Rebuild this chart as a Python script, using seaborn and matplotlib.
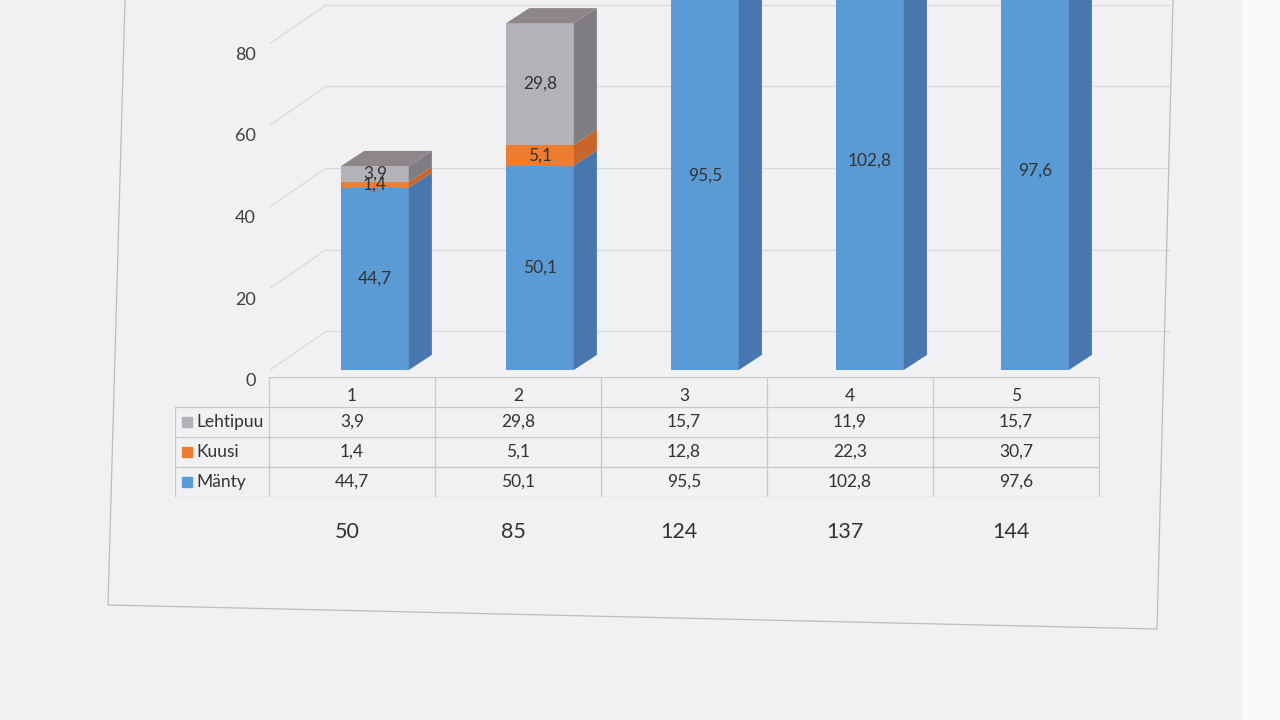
import numpy as np
import pandas as pd
import seaborn as sns
import matplotlib.pyplot as plt
from matplotlib.patches import Polygon, Rectangle
from matplotlib.lines import Line2D
from matplotlib.transforms import ScaledTranslation

# Data
kategoriat = ["1", "2", "3", "4", "5"]
lehtipuu = [3.9, 29.8, 15.7, 11.9, 15.7]
kuusi = [1.4, 5.1, 12.8, 22.3, 30.7]
manty = [44.7, 50.1, 95.5, 102.8, 97.6]
yhteensa = [50, 85, 124, 137, 144]
sarjat = ["Lehtipuu", "Kuusi", "Mänty"]
y_ticks = [0, 20, 40, 60, 80]

# colours: front face, side face, top face
etu = {"Mänty": "#5b9bd5", "Kuusi": "#ed7d31", "Lehtipuu": "#b3b3b7"}
sivu = {"Mänty": "#4777ae", "Kuusi": "#c8652b", "Lehtipuu": "#7f7c82"}
katto = {"Mänty": "#7aaee0", "Kuusi": "#f09a5e", "Lehtipuu": "#8d878b"}

sns.set_theme(style="white")
plt.rcParams["font.family"] = ["Lato", "DejaVu Sans"]

df = pd.DataFrame({"luokka": kategoriat, "Mänty": manty,
                   "Kuusi": kuusi, "Lehtipuu": lehtipuu})
df["Kuusi_top"] = df["Mänty"] + df["Kuusi"]
df["Lehtipuu_top"] = df["Kuusi_top"] + df["Lehtipuu"]

fig = plt.figure(figsize=(12.8, 7.2), dpi=100)
fig.patch.set_facecolor("#f1f1f3")
# whiter paper edge on the right of the scan
fig.add_artist(Rectangle((1242 / 1280, 0), 38 / 1280, 1, transform=fig.transFigure,
                         facecolor="#fafafa", edgecolor="none", zorder=0))

# --- main bar area ---
ax = fig.add_axes([270 / 1280, 350 / 720, 900 / 1280, 370 / 720])
ax.set_facecolor("none")
W = 0.41      # bar width
DX, DY = 0.14, 3.7   # bar depth
GX, GY = 0.34, 9.5   # wall depth

# stacked front faces (draw cumulative totals, tallest first)
for col, name in [("Lehtipuu_top", "Lehtipuu"), ("Kuusi_top", "Kuusi"), ("Mänty", "Mänty")]:
    sns.barplot(data=df, x="luokka", y=col, color=etu[name], saturation=1,
                width=W, linewidth=0, errorbar=None, ax=ax, zorder=3)

ax.set_xlim(-0.636, 4.818)
ax.set_ylim(0, 370 / 4.08)
xl, xr = ax.get_xlim()
ytop = ax.get_ylim()[1]

# back wall grid lines
for v in y_ticks:
    ax.plot([xl, xl + GX], [v, v + GY], color="#d9d9db", lw=0.9, zorder=1)
    ax.plot([xl + GX, xr], [v + GY, v + GY], color="#d9d9db", lw=0.9, zorder=1)

# side and top faces + labels
for i in range(len(kategoriat)):
    pohja = 0
    for name in ["Mänty", "Kuusi", "Lehtipuu"]:
        v = df[name][i]
        ylä = pohja + v
        xr_i = i + W / 2
        ax.add_patch(Polygon([(xr_i, pohja), (xr_i + DX, pohja + DY),
                              (xr_i + DX, ylä + DY), (xr_i, ylä)],
                             facecolor=sivu[name], edgecolor="none", zorder=3))
        if pohja + v / 2 < ytop - 3:
            ax.text(i, pohja + v / 2, f"{v:.1f}".replace(".", ","), ha="center",
                    va="center", fontsize=12.5, color="#333333", zorder=5)
        pohja = ylä
    ax.add_patch(Polygon([(i - W / 2, pohja), (i - W / 2 + DX, pohja + DY),
                          (i + W / 2 + DX, pohja + DY), (i + W / 2, pohja)],
                         facecolor=katto["Lehtipuu"], edgecolor="none", zorder=3))

ax.set_xticks([])
ax.set_xlabel("")
ax.set_ylabel("")
ax.set_yticks(y_ticks)
ax.set_yticklabels([str(t) for t in y_ticks], fontsize=13, color="#404040")
ax.tick_params(axis="y", length=0, pad=10)
siirto = ScaledTranslation(0, -7 / 72, fig.dpi_scale_trans)
for lbl in ax.get_yticklabels():
    lbl.set_transform(lbl.get_transform() + siirto)
sns.despine(ax=ax, left=True, bottom=True)

# --- data table below the bars ---
tax = fig.add_axes([175 / 1280, 223 / 720, 925 / 1280, 120 / 720])
tax.set_facecolor("none")
tax.set_xlim(-1.066, 4.506)
tax.set_ylim(4, 0)
tax.axis("off")
txl = -1.066
viiva = dict(color="#c9c9cc", lw=0.9)
for k in range(len(kategoriat) + 1):
    tax.plot([k - 0.5, k - 0.5], [0, 4], **viiva)
tax.plot([txl, txl], [1, 4], **viiva)
tax.plot([-0.5, 4.5], [0, 0], **viiva)
for r in range(1, 5):
    tax.plot([txl, 4.5], [r, r], **viiva)

for i, k in enumerate(kategoriat):
    tax.text(i, 0.62, k, ha="center", va="center", fontsize=12.5, color="#333333")

rivit = {"Lehtipuu": lehtipuu, "Kuusi": kuusi, "Mänty": manty}
for r, name in enumerate(sarjat):
    y = r + 1.5
    tax.plot([txl + 0.075], [y], marker="s", markersize=7.5, color=etu[name], lw=0)
    tax.text(txl + 0.13, y, name, ha="left", va="center", fontsize=12.5, color="#333333")
    for i, v in enumerate(rivit[name]):
        tax.text(i, y, f"{v:.1f}".replace(".", ","), ha="center", va="center",
                 fontsize=12.5, color="#333333")

for i, t in enumerate(yhteensa):
    tax.text(i - 0.03, 5.15, str(t), ha="center", va="center", fontsize=15.5,
             color="#333333", clip_on=False)

# outer chart border (slightly tilted in the scan)
px = [125, 108, 1157, 1173]
py = [0, 605, 629, 0]
fig.add_artist(Line2D([p / 1280 for p in px], [1 - p / 720 for p in py],
                      transform=fig.transFigure, color="#bdbdc0", lw=0.9))

fig.savefig("out.png", dpi=100, facecolor=fig.get_facecolor())
